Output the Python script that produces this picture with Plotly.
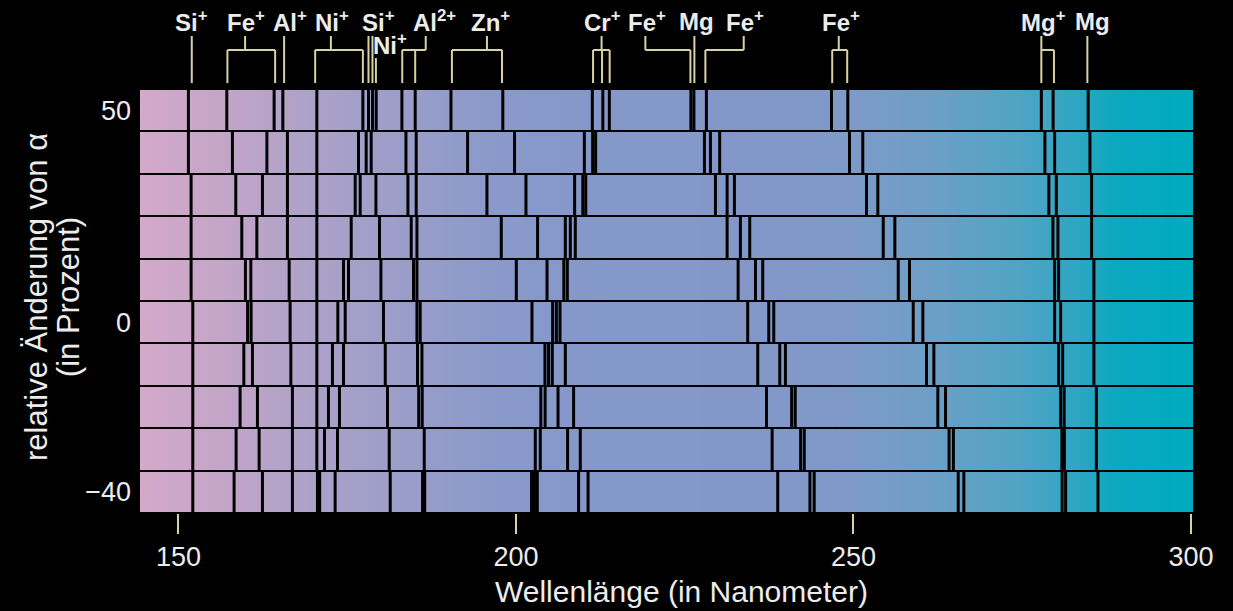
import numpy as np
import plotly.graph_objects as go

# ---------------- data (wavelengths in nm) ----------------
rows = [50, 40, 30, 20, 10, 0, -10, -20, -30, -40]   # relative change of alpha (%)

lines_p50 = [151.47, 157.16, 164.17, 165.46, 170.50, 177.32, 178.15, 178.74, 179.29, 183.10, 185.07,
             190.37, 198.05, 211.31, 212.87, 213.83, 225.91, 226.36, 228.21, 246.74, 249.16,
             277.83, 279.58, 284.77]
lines_p40 = [151.47, 157.99, 163.10, 166.14, 170.50, 176.67, 177.81, 178.55, 183.70, 185.22,
             192.83, 199.79, 210.13, 211.36, 211.80, 227.92, 228.81, 230.18, 249.41, 251.38,
             278.36, 279.80, 285.03]
lines_p30 = [151.87, 158.49, 162.44, 166.14, 170.50, 176.18, 176.92, 179.25, 183.99, 185.22,
             195.70, 201.48, 208.69, 209.90, 210.34, 229.55, 231.28, 232.36, 251.93, 253.61,
             278.95, 280.05, 285.28]
lines_p20 = [151.87, 159.38, 161.61, 166.14, 170.50, 175.59, 179.78, 184.48, 185.33,
             197.82, 203.20, 207.31, 208.05, 208.79, 231.28, 233.25, 234.63, 254.41, 256.13,
             279.55, 280.29, 285.28]
lines_p10 = [151.87, 159.92, 160.72, 166.40, 170.50, 174.45, 175.19, 179.99, 184.82, 185.33,
             200.05, 204.60, 207.09, 207.61, 232.91, 235.48, 236.56, 256.63, 258.30,
             279.80, 280.39, 285.62]
lines_0 = [152.12, 160.24, 160.76, 166.54, 170.50, 173.61, 174.70, 180.37, 185.33, 185.81,
           202.37, 205.43, 205.98, 206.52, 234.33, 237.45, 238.19, 258.85, 260.28,
           279.80, 280.69, 285.62]
lines_m10 = [152.12, 159.68, 160.96, 166.65, 170.50, 172.81, 174.45, 180.63, 185.41, 186.07,
             204.29, 204.83, 205.38, 207.31, 235.82, 239.08, 239.92, 260.82, 261.91,
             280.39, 280.99, 285.62]
lines_m20 = [152.12, 159.13, 161.70, 166.88, 170.50, 172.22, 173.85, 180.97, 185.59, 186.11,
             203.68, 204.32, 206.23, 208.54, 237.11, 240.84, 241.37, 262.50, 263.64,
             280.69, 281.21, 285.98]
lines_m30 = [152.12, 158.54, 161.95, 166.88, 170.50, 171.63, 173.56, 181.22, 186.41,
             202.86, 203.60, 207.65, 209.53, 237.95, 242.17, 242.71, 264.16, 264.80,
             280.88, 281.24, 285.98]
lines_m40 = [152.12, 158.24, 162.44, 166.88, 170.59, 170.92, 173.21, 181.37, 186.16, 186.48,
             202.31, 202.74, 203.16, 209.28, 210.68, 238.78, 243.55, 244.18, 265.52, 266.35,
             280.91, 281.43, 286.22]
lines_by_row = [lines_p50, lines_p40, lines_p30, lines_p20, lines_p10,
                lines_0, lines_m10, lines_m20, lines_m30, lines_m40]

# ion labels above the chart
ion_label = ["Si<sup>+</sup>", "Fe<sup>+</sup>", "Al<sup>+</sup>", "Ni<sup>+</sup>", "Si<sup>+</sup>",
             "Ni<sup>+</sup>", "Al<sup>2+</sup>", "Zn<sup>+</sup>", "Cr<sup>+</sup>", "Fe<sup>+</sup>",
             "Mg", "Fe<sup>+</sup>", "Fe<sup>+</sup>", "Mg<sup>+</sup>", "Mg"]
ion_label_x = [151.97, 159.95, 166.54, 172.77, 179.59, 181.37, 187.89, 196.19, 212.79, 219.47,
               226.73, 233.99, 248.08, 278.17, 285.43]
ion_stem = [None, 159.87, None, 172.58, None, None, 186.63, 195.70, 212.68, 219.17,
            None, 233.74, 247.82, 277.83, None]
ion_legs = [[151.97], [157.25, 164.32], [165.65], [170.25, 177.32], [178.15, 178.74],
            [179.25], [183.15, 185.07], [190.51, 197.93], [211.42, 212.75, 213.88], [225.84],
            [226.43], [228.06], [246.85, 249.07], [277.83, 279.70], [284.65]]
ion_lower = [False, False, False, False, False, True, False, False, False, False,
             False, False, False, False, False]

x_ticks = [150, 200, 250, 300]
y_ticks = [50, 0, -40]
x_title = "Wellenlänge (in Nanometer)"
y_title_1 = "relative Änderung von α"
y_title_2 = "(in Prozent)"

# ---------------- style ----------------
X_MIN, X_MAX = 144.3, 300.3
BEIGE = "#d8d1a4"
TEXT = "#ececec"
FONT = "Liberation Sans, Arial, Helvetica, sans-serif"

grad_nm = [144.3, 157, 171, 184, 198, 215, 240, 250, 262, 275, 284, 289, 300.3]
grad_col = ["#d4a9c9", "#c3a5c8", "#aaa1c8", "#9a9dc9", "#8899ca", "#8598ca", "#8298c8",
            "#7d9ac8", "#6c9fc6", "#4fa4c4", "#2aa6c2", "#0aa9c0", "#00abbf"]
colorscale = [[(w - X_MIN) / (X_MAX - X_MIN), c] for w, c in zip(grad_nm, grad_col)]

fig = go.Figure()

# gradient bands
gx = np.arange(144.0, 300.6, 0.25)
fig.add_trace(go.Heatmap(
    x=gx, y=rows, z=[gx for _ in rows], zmin=X_MIN, zmax=X_MAX,
    colorscale=colorscale, showscale=False, ygap=2, hoverinfo="skip"))

# spectral lines
xs, ys = [], []
for r, lst in zip(rows, lines_by_row):
    for w in lst:
        xs += [w, w, None]
        ys += [r - 5, r + 5, None]
fig.add_trace(go.Scatter(x=xs, y=ys, mode="lines", line=dict(color="black", width=3),
                         hoverinfo="skip", showlegend=False))

# brackets / labels above the plot
Y_TOP, Y_BAR, Y_BOT, Y_LOWTOP = 1.125, 1.092, 1.014, 1.073
Y_LAB, Y_LAB_LOW = 1.160, 1.106
shapes = []
def seg(x0, y0, x1, y1):
    shapes.append(dict(type="line", xref="x", yref="paper", x0=x0, y0=y0, x1=x1, y1=y1,
                       line=dict(color=BEIGE, width=2)))

annotations = []
for lab, lx, stem, legs, low in zip(ion_label, ion_label_x, ion_stem, ion_legs, ion_lower):
    top = Y_LOWTOP if low else Y_TOP
    if stem is None:
        for lg in legs:
            seg(lg, top, lg, Y_BOT)
    else:
        seg(stem, top, stem, Y_BAR)
        allx = legs + [stem]
        seg(min(allx), Y_BAR, max(allx), Y_BAR)
        for lg in legs:
            seg(lg, Y_BAR, lg, Y_BOT)
    annotations.append(dict(text=lab, x=lx, xref="x", y=(Y_LAB_LOW if low else Y_LAB), yref="paper",
                            showarrow=False, xanchor="center", yanchor="middle",
                            font=dict(family=FONT, size=24, color=TEXT, weight="bold")))

annotations.append(dict(text=x_title, x=0.514, xref="paper", y=-0.186, yref="paper",
                        showarrow=False, xanchor="center", yanchor="middle",
                        font=dict(family=FONT, size=30, color=TEXT)))
annotations.append(dict(text=y_title_1, x=-0.0985, xref="paper", y=0.51, yref="paper",
                        showarrow=False, xanchor="center", yanchor="middle", textangle=-90,
                        font=dict(family=FONT, size=31, color=TEXT)))
annotations.append(dict(text=y_title_2, x=-0.068, xref="paper", y=0.51, yref="paper",
                        showarrow=False, xanchor="center", yanchor="middle", textangle=-90,
                        font=dict(family=FONT, size=31, color=TEXT)))

fig.update_layout(
    width=1233, height=611,
    margin=dict(l=140, r=40, t=89, b=98),
    paper_bgcolor="black", plot_bgcolor="black",
    showlegend=False,
    shapes=shapes, annotations=annotations,
    xaxis=dict(range=[X_MIN, X_MAX], tickvals=x_ticks, ticks="outside", ticklen=20,
               tickwidth=2, tickcolor=BEIGE, showgrid=False, zeroline=False, showline=False,
               tickfont=dict(family=FONT, size=27, color=TEXT)),
    yaxis=dict(range=[-45, 55], tickvals=y_ticks, ticks="", showgrid=False, zeroline=False,
               showline=False, ticklabelstandoff=8,
               tickfont=dict(family=FONT, size=27, color=TEXT)),
)

fig.write_html("out.html")
